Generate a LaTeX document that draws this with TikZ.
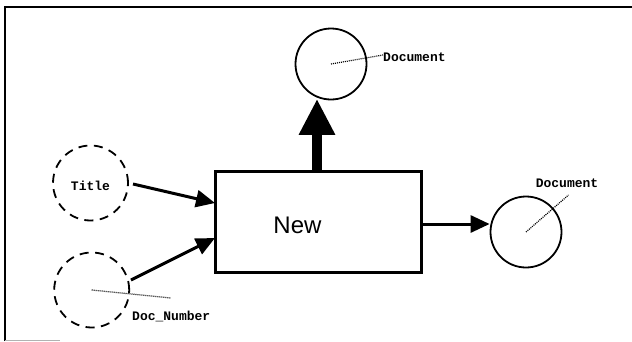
\documentclass[tikz,border=0pt]{standalone}
\usepackage{fontspec}
\setmainfont{Liberation Sans}
\newfontfamily\labelfont{Liberation Mono}[BoldFont=* Bold]
\usetikzlibrary{arrows.meta}
\begin{document}
\begin{tikzpicture}[x=1pt,y=-1pt,
  entity/.style={circle,draw,line width=1.8pt,minimum size=71pt,inner sep=0pt},
  attribute/.style={circle,draw,line width=1.8pt,dash pattern=on 9pt off 6.5pt,minimum size=75pt,inner sep=0pt},
  process/.style={draw,line width=2.6pt,minimum width=206pt,minimum height=101pt,inner sep=0pt},
  tag/.style={font=\labelfont\bfseries\fontsize{13}{15}\selectfont,inner sep=0pt},
  flow/.style={line width=3pt,-{Triangle[length=19pt,width=17pt]}},
  bigflow/.style={line width=10pt,-{Triangle[length=36pt,width=34pt]}},
  leader/.style={line width=1.2pt,dash pattern=on 1pt off 1pt}]
  \useasboundingbox (0,0) rectangle (632,341);

  % frame
  \draw[line width=2.5pt] (5,341) -- (5,7) -- (632,7);
  \draw[line width=1pt,gray!60] (5,340) -- (60,340);

  % central process box
  \node[process] (box) at (318.25,222) {};
  \node[font=\fontsize{24}{28}\selectfont] (newtxt) at (297.5,225) {New};

  % attribute circles (inputs)
  \node[attribute] (title) at (90.5,183) {};
  \node[tag] (titletxt) at (90.5,186) {Title};
  \node[attribute] (docnum) at (91.7,290) {};
  \node[tag,anchor=west] (docnumtxt) at (132,316) {Doc\_Number};

  % entity circles (outputs)
  \node[entity] (tdoc) at (331,64) {};
  \node[tag,anchor=west] (tdoctxt) at (383,57) {Document};
  \node[entity] (rdoc) at (526,232) {};
  \node[tag] (rdoctxt) at (567,183) {Document};

  % connection points on the box
  \coordinate (inT) at (215,203);
  \coordinate (inD) at (215,238);
  \coordinate (outR) at (421.5,224);
  \coordinate (outU) at (317,171.5);
  \coordinate (tstart) at (133,184);
  \coordinate (dstart) at (131,280);

  % flows
  \draw[flow] (tstart) -- (inT);
  \draw[flow] (dstart) -- (inD);
  \draw[flow] (outR) -- (outR -| rdoc.west);
  \draw[bigflow] (outU) -- ([yshift=1.5pt]outU |- tdoc.south);

  % label leaders
  \coordinate (tlead) at (383,55);
  \coordinate (rlead) at (568.5,195);
  \coordinate (dlead) at (171,298);
  \draw[leader] (tdoc.center) -- (tlead);
  \draw[leader] (rdoc.center) -- (rlead);
  \draw[leader] (docnum.center) -- (dlead);
\end{tikzpicture}
\end{document}
